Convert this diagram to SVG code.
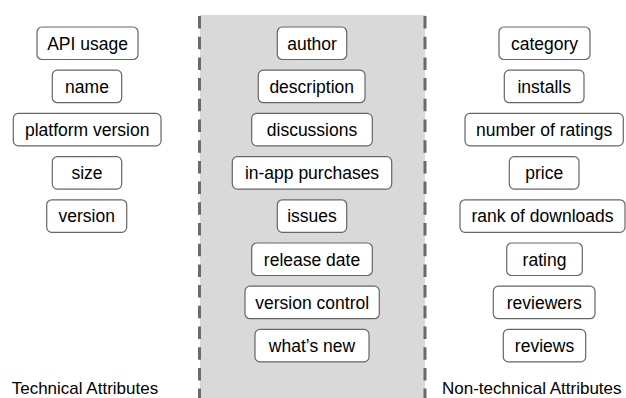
<svg xmlns="http://www.w3.org/2000/svg" width="626" height="398" viewBox="0 0 626 398">
<style>
.b{fill:#ffffff;stroke:#666666;stroke-width:1.2}
.t{font-family:"Liberation Sans",Arial,sans-serif;font-size:17.5px;fill:#000000;text-anchor:middle}
.h{font-family:"Liberation Sans",Arial,sans-serif;font-size:17px;fill:#000000}
.d{stroke:#6a6a6a;stroke-width:3;stroke-dasharray:12.5 8.2;fill:none}
</style>
<rect x="0" y="0" width="626" height="398" fill="#ffffff"/>
<rect x="200" y="15" width="225" height="383" fill="#d9d9d9"/>
<g id="connectors">
<line class="d" x1="199.5" y1="16" x2="199.5" y2="398"/>
<line class="d" x1="425" y1="16" x2="425" y2="398"/>
</g>
<g id="n-api"><rect class="b" x="37" y="27" width="101" height="32.5" rx="5"/><text class="t" x="87.5" y="49.5">API usage</text></g>
<g id="n-name"><rect class="b" x="52.3" y="70.2" width="69.4" height="32.5" rx="5"/><text class="t" x="87" y="92.7">name</text></g>
<g id="n-platform"><rect class="b" x="13.3" y="113.4" width="147.7" height="32.5" rx="5"/><text class="t" x="87.2" y="135.9">platform version</text></g>
<g id="n-size"><rect class="b" x="52.3" y="156.6" width="69.4" height="32.5" rx="5"/><text class="t" x="87" y="179.1">size</text></g>
<g id="n-version"><rect class="b" x="46.7" y="199.8" width="80" height="32.5" rx="5"/><text class="t" x="86.7" y="222.3">version</text></g>

<g id="n-author"><rect class="b" x="277.3" y="27" width="69.4" height="32.5" rx="5"/><text class="t" x="312" y="49.5">author</text></g>
<g id="n-description"><rect class="b" x="258.3" y="70.2" width="106.7" height="32.5" rx="5"/><text class="t" x="311.7" y="92.7">description</text></g>
<g id="n-discussions"><rect class="b" x="251.7" y="113.4" width="120.6" height="32.5" rx="5"/><text class="t" x="312" y="135.9">discussions</text></g>
<g id="n-inapp"><rect class="b" x="232.3" y="156.6" width="159.4" height="32.5" rx="5"/><text class="t" x="312" y="179.1">in-app purchases</text></g>
<g id="n-issues"><rect class="b" x="277.3" y="199.8" width="69.4" height="32.5" rx="5"/><text class="t" x="312" y="222.3">issues</text></g>
<g id="n-release"><rect class="b" x="251.7" y="243" width="120.6" height="32.5" rx="5"/><text class="t" x="312" y="265.5">release date</text></g>
<g id="n-vcs"><rect class="b" x="245" y="286.2" width="134.3" height="32.5" rx="5"/><text class="t" x="312.2" y="308.7">version control</text></g>
<g id="n-whatsnew"><rect class="b" x="255" y="329.4" width="114" height="32.5" rx="5"/><text class="t" x="312" y="351.9">what’s new</text></g>

<g id="n-category"><rect class="b" x="499" y="27" width="91" height="32.5" rx="5"/><text class="t" x="544.5" y="49.5">category</text></g>
<g id="n-installs"><rect class="b" x="504.3" y="70.2" width="79.7" height="32.5" rx="5"/><text class="t" x="544.2" y="92.7">installs</text></g>
<g id="n-numratings"><rect class="b" x="465" y="113.4" width="158.3" height="32.5" rx="5"/><text class="t" x="544.2" y="135.9">number of ratings</text></g>
<g id="n-price"><rect class="b" x="509.3" y="156.6" width="69.7" height="32.5" rx="5"/><text class="t" x="544.2" y="179.1">price</text></g>
<g id="n-rank"><rect class="b" x="460" y="199.8" width="165" height="32.5" rx="5"/><text class="t" x="542.5" y="222.3">rank of downloads</text></g>
<g id="n-rating"><rect class="b" x="506.7" y="243" width="75.6" height="32.5" rx="5"/><text class="t" x="544.5" y="265.5">rating</text></g>
<g id="n-reviewers"><rect class="b" x="493.3" y="286.2" width="101.7" height="32.5" rx="5"/><text class="t" x="544.2" y="308.7">reviewers</text></g>
<g id="n-reviews"><rect class="b" x="503.3" y="329.4" width="82.4" height="32.5" rx="5"/><text class="t" x="544.5" y="351.9">reviews</text></g>

<g id="labels">
<text class="h" x="11.7" y="393.5">Technical Attributes</text>
<text class="h" x="442" y="393.5">Non-technical Attributes</text>
</g>
</svg>
